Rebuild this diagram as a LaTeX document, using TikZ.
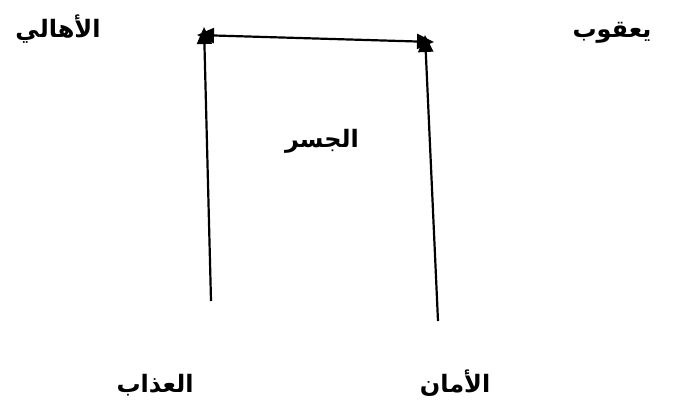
\documentclass[tikz,border=0pt]{standalone}
\usepackage{fontspec}
\usetikzlibrary{arrows.meta}
\TeXXeTstate=1
\newfontfamily\arabicfont[Script=Arabic]{DejaVu Sans}
\tikzset{
  lbl/.style={font=\arabicfont\bfseries\fontsize{24}{28}\selectfont, inner sep=0pt, anchor=base},
  conn/.style={line width=2.2pt, -{Triangle[length=17pt,width=15pt]}},
  both/.style={line width=2.2pt, {Triangle[length=17pt,width=15pt]}-{Triangle[length=17pt,width=15pt]}}
}
\begin{document}
\begin{tikzpicture}[x=1pt,y=-1pt]
\useasboundingbox (0,0) rectangle (683,406);
\node[lbl] (ahali) at (58,38) {\beginR الأهالي\endR};
\node[lbl] (yaqub) at (612,38) {\beginR يعقوب\endR};
\node[lbl] (jisr) at (322,148) {\beginR الجسر\endR};
\node[lbl] (adhab) at (155,392) {\beginR العذاب\endR};
\node[lbl] (aman) at (455,392) {\beginR الأمان\endR};
\coordinate (lb) at (211,301);
\coordinate (lt) at (204,27);
\coordinate (rb) at (438,321);
\coordinate (rt) at (425,35);
\coordinate (hl) at (197,35);
\coordinate (hr) at (434,42);
\draw[conn] (lb) -- (lt);
\draw[conn] (rb) -- (rt);
\draw[both] (hl) -- (hr);
\end{tikzpicture}
\end{document}
